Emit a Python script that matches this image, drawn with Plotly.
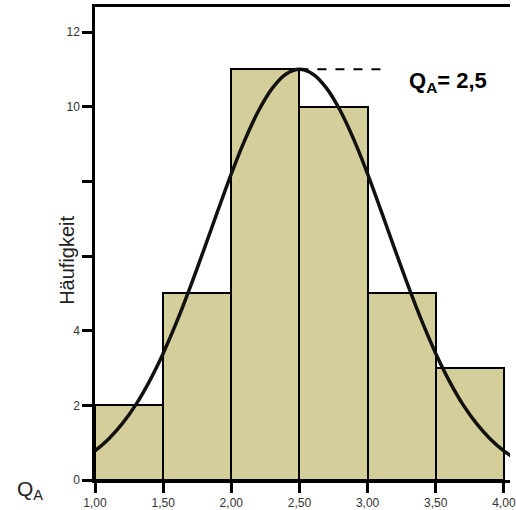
import plotly.graph_objects as go

# Histogram data
bin_centers = [1.25, 1.75, 2.25, 2.75, 3.25, 3.75]
counts = [2, 5, 11, 10, 5, 3]
bin_width = 0.5

# Fitted normal curve
curve_x = [1.0, 1.1, 1.2, 1.3, 1.4, 1.5, 1.6, 1.7, 1.8, 1.9, 2.0, 2.1, 2.2, 2.3, 2.4, 2.5,
           2.6, 2.7, 2.8, 2.9, 3.0, 3.1, 3.2, 3.3, 3.4, 3.5, 3.6, 3.7, 3.8, 3.9, 4.0, 4.1]
curve_y = [0.78, 1.10, 1.51, 2.02, 2.65, 3.39, 4.24, 5.18, 6.18, 7.20, 8.20, 9.11, 9.89, 10.49, 10.87, 11.0,
           10.87, 10.49, 9.89, 9.11, 8.20, 7.20, 6.18, 5.18, 4.24, 3.39, 2.65, 2.02, 1.51, 1.10, 0.78, 0.54]

x_ticks = [1.0, 1.5, 2.0, 2.5, 3.0, 3.5, 4.0]
x_ticklabels = ["1,00", "1,50", "2,00", "2,50", "3,00", "3,50", "4,00"]
y_ticks = [0, 2, 4, 6, 8, 10, 12]
y_ticklabels = ["0", "2", "4", "", "", "10", "12"]

peak_x = 2.5
peak_y = 11
dash_end_x = 3.14

FONT = "Liberation Sans, Arial, sans-serif"

fig = go.Figure()
fig.add_trace(go.Bar(
    x=bin_centers, y=counts, width=bin_width,
    marker=dict(color="#D4CF9A", line=dict(color="black", width=2)),
    hoverinfo="skip",
))
fig.add_trace(go.Scatter(
    x=curve_x, y=curve_y, mode="lines",
    line=dict(color="#111111", width=3.5, shape="spline"),
    cliponaxis=False, hoverinfo="skip",
))
fig.add_trace(go.Scatter(
    x=[peak_x, dash_end_x], y=[peak_y, peak_y], mode="lines",
    line=dict(color="black", width=2, dash="dash"),
    hoverinfo="skip",
))

fig.update_layout(
    width=516, height=510,
    margin=dict(l=95, r=0, t=7, b=30),
    paper_bgcolor="white", plot_bgcolor="white",
    showlegend=False, bargap=0,
    font=dict(family=FONT, color="#333333", size=12),
    xaxis=dict(
        range=[1.0, 4.045], tickvals=x_ticks, ticktext=x_ticklabels,
        showline=True, linecolor="black", linewidth=2.5, mirror=True,
        ticks="outside", ticklen=10, tickwidth=2.5, tickcolor="black",
        showgrid=False, zeroline=False, ticklabeloverflow="allow",
        tickfont=dict(size=12, color="#333333"),
    ),
    yaxis=dict(
        range=[0, 12.67], tickvals=y_ticks, ticktext=y_ticklabels,
        showline=True, linecolor="black", linewidth=2.5,
        ticks="outside", ticklen=10, tickwidth=2.5, tickcolor="black",
        showgrid=False, zeroline=False,
        tickfont=dict(size=12, color="#333333"),
    ),
    annotations=[
        dict(text="Häufigkeit", textangle=-90, xref="paper", yref="paper",
             x=-0.068, y=0.465, xanchor="center", yanchor="middle", showarrow=False,
             font=dict(family=FONT, size=20, color="#222222")),
        dict(text="Q<sub>A</sub>", xref="paper", yref="paper",
             x=-0.157, y=-0.021, xanchor="center", yanchor="middle", showarrow=False,
             font=dict(family=FONT, size=21, color="#222222")),
        dict(text="<b>Q<sub>A</sub>= 2,5</b>", xref="x", yref="y",
             x=3.288, y=10.66, xanchor="left", yanchor="middle", showarrow=False,
             font=dict(family=FONT, size=22, color="black")),
    ],
)

fig.write_html("out.html")
